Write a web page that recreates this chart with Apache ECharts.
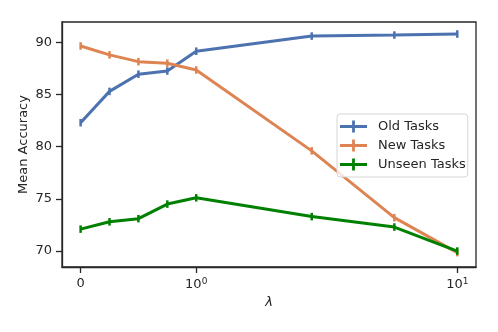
<!DOCTYPE html>
<html>
<head>
<meta charset="utf-8">
<script src="https://cdn.jsdelivr.net/npm/echarts@6/dist/echarts.min.js"></script>
<style>
  html, body { margin: 0; padding: 0; background: #fff; }
  #chart { width: 498px; height: 332px; }
</style>
</head>
<body>
<div id="chart"></div>
<script>
  // lambda values (symlog x axis, linear between 0 and 1)
  const lambdas = [0, 0.25, 0.5, 0.75, 1, 2.77, 5.74, 10];
  const oldTasks = [82.3, 85.3, 86.95, 87.25, 89.15, 90.6, 90.7, 90.8];
  const newTasks = [89.65, 88.8, 88.15, 88.0, 87.35, 79.6, 73.2, 69.85];
  const unseenTasks = [72.1, 72.8, 73.1, 74.5, 75.1, 73.3, 72.3, 70.0];
  const yTicks = [70, 75, 80, 85, 90];
  const xTicks = [0, 1, 10];

  // symlog-like mapping: linear below 1, one decade = DECADE units above
  const DECADE = 2.258;
  function symlog(v) {
    return v <= 1 ? v : 1 + DECADE * Math.log10(v);
  }

  const font = 'DejaVu Sans';
  const ink = '#262626';

  function pts(vals) {
    return lambdas.map((l, i) => [symlog(l), vals[i]]);
  }

  // legend icon: a "+" like the errorbar handle
  const plusIcon = 'path://M0,4.6L27,4.6L27,7.4L0,7.4Z M12.1,0L14.9,0L14.9,12L12.1,12Z';

  function line(name, vals, color, z) {
    return {
      name: name,
      type: 'line',
      data: pts(vals),
      z: z,
      symbol: 'rect',
      symbolSize: [2.5, 7.5],
      showSymbol: true,
      itemStyle: { color: color },
      lineStyle: { color: color, width: 3 },
      emphasis: { disabled: true },
      animation: false
    };
  }

  let chart = echarts.init(document.getElementById('chart'));
  chart.setOption({
    backgroundColor: '#fff',
    animation: false,
    grid: {
      left: 62, right: 22, top: 22, bottom: 65,
      show: true, borderColor: ink, borderWidth: 1.3
    },
    legend: {
      orient: 'vertical',
      left: 337, top: 114,
      itemWidth: 27, itemHeight: 12,
      itemGap: 6,
      padding: [6, 2, 6, 3],
      borderColor: '#d6d6d6', borderWidth: 1, borderRadius: 3,
      backgroundColor: 'rgba(255,255,255,0.8)',
      icon: plusIcon,
      textStyle: { fontFamily: font, fontSize: 13, color: ink, padding: [0, 0, 0, 6] },
      data: ['Old Tasks', 'New Tasks', 'Unseen Tasks']
    },
    xAxis: {
      type: 'value',
      min: -0.161, max: 3.42,
      name: 'λ',
      nameLocation: 'middle',
      nameGap: 29,
      nameMoveOverlap: false,
      nameTextStyle: { fontFamily: font, fontSize: 13, fontStyle: 'italic', color: ink },
      axisLine: { show: true, onZero: false, lineStyle: { color: ink, width: 1.3 } },
      axisTick: { show: true, length: 6, lineStyle: { color: ink, width: 1.3 }, customValues: xTicks.map(symlog) },
      splitLine: { show: false },
      axisLabel: {
        customValues: xTicks.map(symlog),
        margin: 10,
        formatter: function (v) {
          if (Math.abs(v) < 1e-6) return '{b|0}';
          const e = Math.round((v - 1) / DECADE);
          return '{b|10}{s|' + e + '}';
        },
        rich: {
          b: { fontFamily: font, fontSize: 13, color: ink },
          s: { fontFamily: font, fontSize: 9, color: ink, verticalAlign: 'top', padding: [0, 0, 6, 0] }
        }
      }
    },
    yAxis: {
      type: 'value',
      min: 68.47, max: 91.95,
      name: 'Mean Accuracy',
      nameLocation: 'middle',
      nameGap: 32,
      nameMoveOverlap: false,
      nameTextStyle: { fontFamily: font, fontSize: 13, color: ink },
      axisLine: { show: true, onZero: false, lineStyle: { color: ink, width: 1.3 } },
      axisTick: { show: true, length: 6, lineStyle: { color: ink, width: 1.3 }, customValues: yTicks },
      splitLine: { show: false },
      axisLabel: {
        customValues: yTicks,
        margin: 10,
        fontFamily: font, fontSize: 13, color: ink
      }
    },
    series: [
      line('Old Tasks', oldTasks, '#4c72b0', 2),
      line('New Tasks', newTasks, '#dd8452', 3),
      line('Unseen Tasks', unseenTasks, '#008000', 4)
    ]
  });
</script>
</body>
</html>
